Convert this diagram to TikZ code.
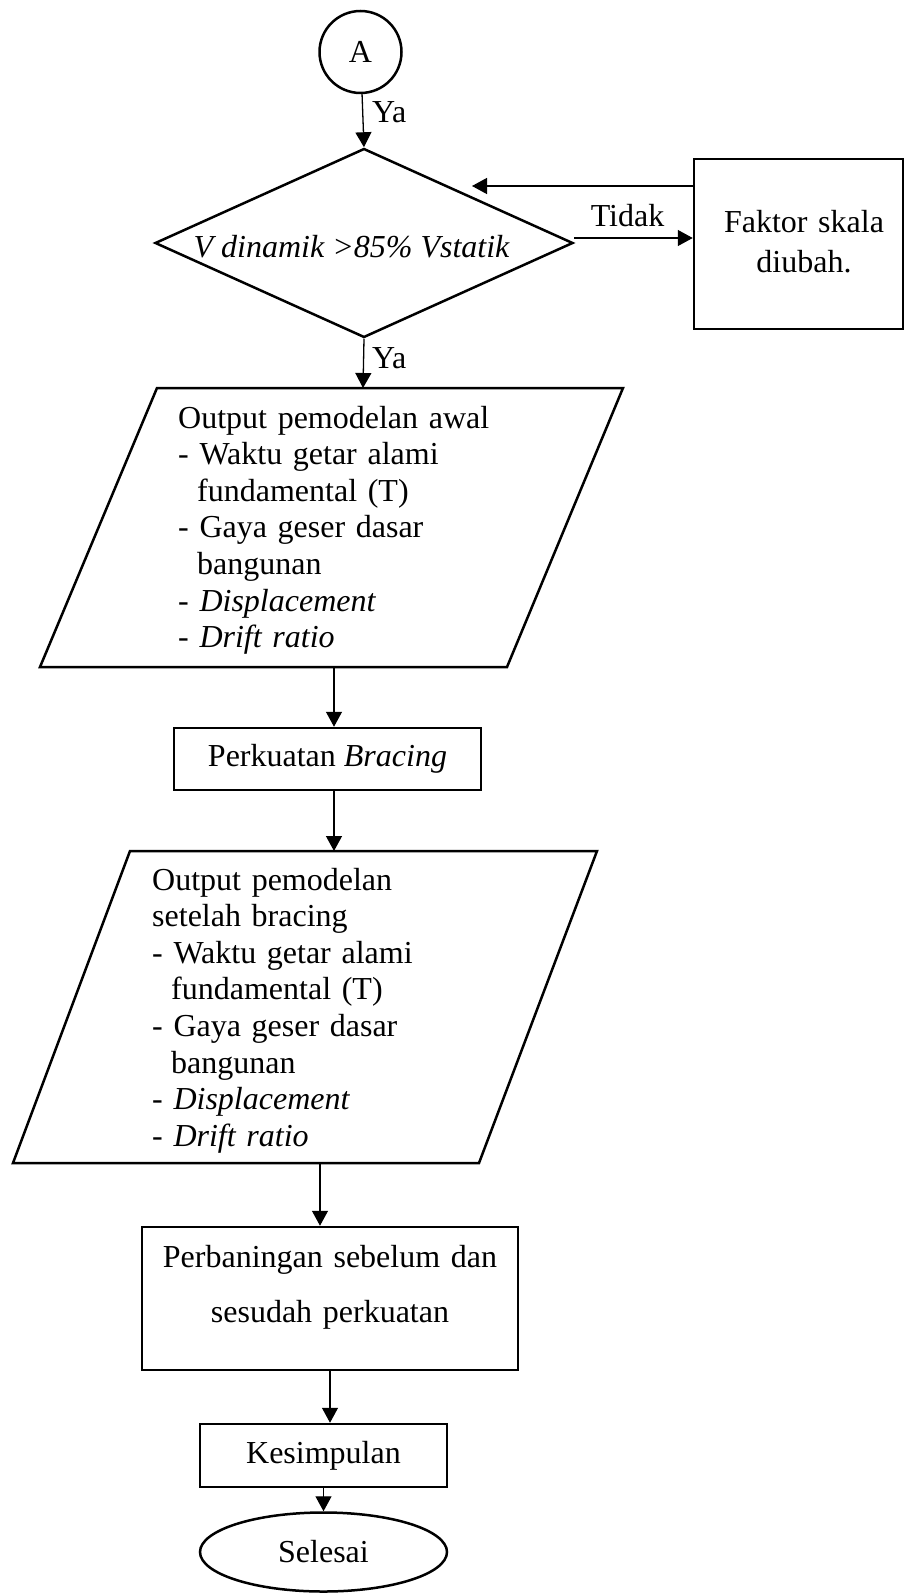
\documentclass[tikz,border=0pt]{standalone}
\usepackage{fontspec}
\setmainfont{Liberation Serif}
\usetikzlibrary{shapes.geometric,arrows.meta}
\begin{document}
\begin{tikzpicture}[x=1pt,y=-1pt,
  outline/.style={draw, line width=2.5pt},
  shp/.style={outline, inner sep=0pt},
  fnt/.style={font=\fontsize{32}{36.6}\selectfont},
  lbl/.style={fnt, inner sep=0pt},
  conn/.style={line width=1.3pt},
  arr/.style={conn, -{Triangle[length=15pt,width=16pt]}},
]
\useasboundingbox (0,0) rectangle (905,1594);

% start connector
\node[shp, circle, minimum size=82pt, fnt] (A) at (360.5,52) {A};
\node[lbl, anchor=base west] (ya1) at (372,123) {Ya};

% decision
\node[shp, diamond, minimum width=418pt, minimum height=189pt] (dia) at (364,243) {};
\node[lbl, anchor=base] (diat) at (351.5,258) {\itshape V dinamik >85\% Vstatik};

% scale factor box
\node[shp, rectangle, minimum width=209pt, minimum height=170pt] (fak) at (798.5,244) {};
\node[lbl, font=\fontsize{32}{40}\selectfont, anchor=base, align=center, text width=200pt] (fakt) at (804,233) {Faktor skala\\diubah.};
\node[lbl, anchor=base] (tidak) at (627.5,227) {Tidak};

\node[lbl, anchor=base west] (ya2) at (372,368) {Ya};

% output 1
\draw[outline] (157,388) -- (623,388) -- (507,667) -- (40,667) -- cycle;
\coordinate (p1t) at (363,388);
\coordinate (p1b) at (334,667);
\node[lbl, anchor=base west, align=left, text width=420pt] (p1txt) at (178,428)
  {Output pemodelan awal\\
   - Waktu getar alami\\
   \hspace*{19pt}fundamental (T)\\
   - Gaya geser dasar\\
   \hspace*{19pt}bangunan\\
   - \textit{Displacement}\\
   - \textit{Drift ratio}};

% bracing
\node[shp, rectangle, minimum width=307pt, minimum height=62pt, fnt] (perk) at (327.5,759) {Perkuatan \textit{Bracing}};

% output 2
\draw[outline] (130,851) -- (597,851) -- (479,1163) -- (13,1163) -- cycle;
\coordinate (p2t) at (334,851);
\coordinate (p2b) at (320,1163);
\node[lbl, anchor=base west, align=left, text width=420pt] (p2txt) at (152,890)
  {Output pemodelan\\
   setelah bracing\\
   - Waktu getar alami\\
   \hspace*{19pt}fundamental (T)\\
   - Gaya geser dasar\\
   \hspace*{19pt}bangunan\\
   - \textit{Displacement}\\
   - \textit{Drift ratio}};

% comparison
\node[shp, rectangle, minimum width=376pt, minimum height=143pt] (perb) at (330,1298.5) {};
\node[lbl, font=\fontsize{32}{55}\selectfont, anchor=base, align=center, text width=370pt] (perbt) at (330,1267)
  {Perbaningan sebelum dan\\sesudah perkuatan};

% conclusion
\node[shp, rectangle, minimum width=247pt, minimum height=63pt, fnt] (kes) at (323.5,1455.5) {Kesimpulan};
\node[shp, ellipse, minimum width=247pt, minimum height=79pt, fnt] (sel) at (323.5,1552) {Selesai};

% connectors
\draw[arr] (A) -- (dia.north);
\draw[arr] (dia.south) -- (p1t);
\coordinate (fb) at (472,186);
\draw[arr] (fak.west |- fb) -- (fb);
\coordinate (de) at ([yshift=5pt]dia.east);
\draw[arr] (de) -- (de -| fak.west);
\draw[arr] (p1b) -- (p1b |- perk.north);
\draw[arr] (p2t |- perk.south) -- (p2t);
\draw[arr] (p2b) -- (p2b |- perb.north);
\draw[arr] (perb.south) -- (perb.south |- kes.north);
\draw[arr] (kes.south) -- (sel.north);
\end{tikzpicture}
\end{document}
